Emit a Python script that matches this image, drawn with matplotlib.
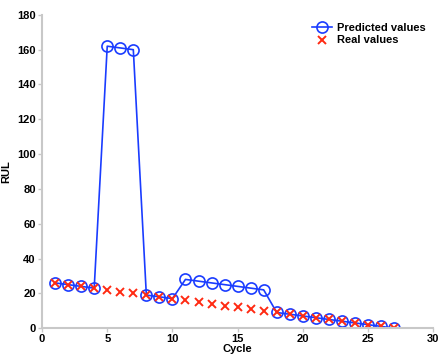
import matplotlib.pyplot as plt
import numpy as np

cycles = np.arange(1, 28)
real_values = [26, 25, 24, 23, 22, 21, 20, 19, 18, 17, 16, 15, 14, 13,
               12, 11, 10, 9, 8, 7, 6, 5, 4, 3, 2, 1, 0]
predicted_values = [26, 25, 24, 23, 162, 161, 160, 19, 18, 17, 28, 27, 26, 25,
                    24, 23, 22, 9, 8, 7, 6, 5, 4, 3, 2, 1, 0]

plt.rcParams['font.family'] = ['Liberation Sans', 'DejaVu Sans']
plt.rcParams['font.weight'] = 'bold'

fig = plt.figure(figsize=(4.38, 3.54), dpi=100)
ax = fig.add_axes([0.096, 0.073, 0.893, 0.885])

ax.plot(cycles, predicted_values, color='#1a3cff', lw=1.2, marker='o',
        markersize=8, markerfacecolor='none', markeredgewidth=1.2,
        label='Predicted values')
ax.plot(cycles, real_values, ls='none', marker='x', color='#ff2a12',
        markersize=5.5, markeredgewidth=1.4, label='Real values')

ax.set_xlim(0, 30)
ax.set_ylim(0, 180)
ax.set_xticks(np.arange(0, 31, 5))
ax.set_yticks(np.arange(0, 181, 20))
ax.set_xlabel('Cycle', fontsize=8, fontweight='bold', labelpad=0)
ax.set_ylabel('RUL', fontsize=8, fontweight='bold', labelpad=4)
ax.tick_params(labelsize=8, length=3, width=1, color='#c8c8c8', pad=1.5)

for side in ['top', 'right']:
    ax.spines[side].set_visible(False)
for side in ['left', 'bottom']:
    ax.spines[side].set_color('#c8c8c8')
    ax.spines[side].set_linewidth(1.5)

ax.legend(loc='upper right', frameon=False, fontsize=8, handlelength=1.8,
          handletextpad=0.4, labelspacing=0.25, borderaxespad=0.3,
          bbox_to_anchor=(1.0, 1.0))

fig.savefig('out.png', dpi=100)
